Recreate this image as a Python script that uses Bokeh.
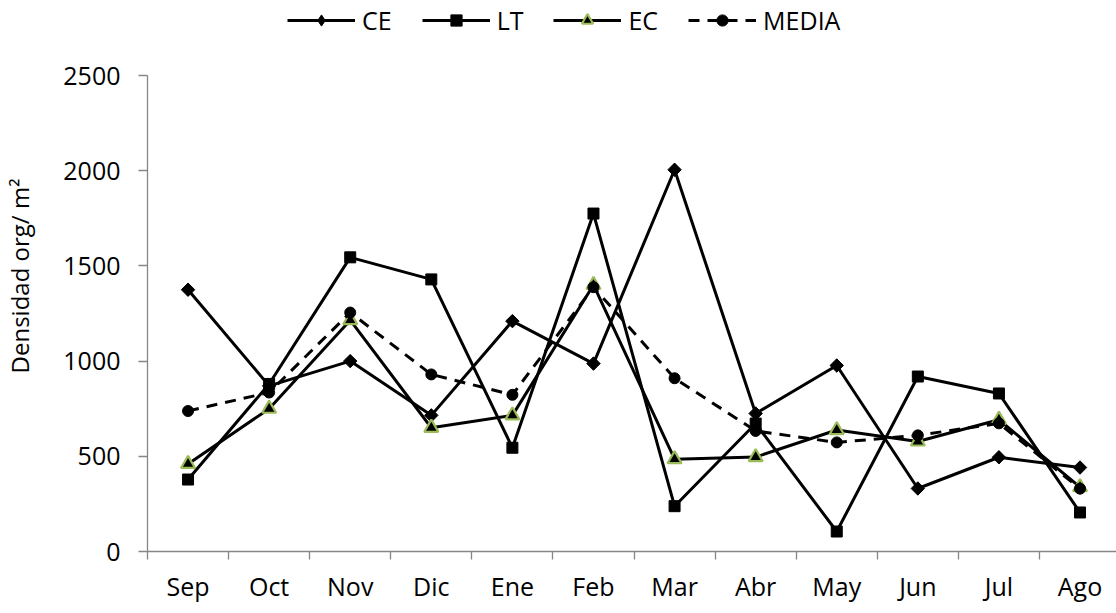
import math
from bokeh.plotting import figure
from bokeh.models import (Range1d, LinearAxis, FixedTicker, Legend, LegendItem)
from bokeh.embed import file_html
from bokeh.resources import INLINE

# Monthly density, org / m2
months = ["Sep", "Oct", "Nov", "Dic", "Ene", "Feb", "Mar", "Abr", "May", "Jun", "Jul", "Ago"]
ce = [1375, 870, 1000, 715, 1210, 987, 2005, 725, 977, 331, 495, 441]
lt = [378, 880, 1545, 1429, 545, 1775, 238, 672, 105, 919, 830, 205]
ec = [460, 750, 1215, 650, 715, 1400, 485, 496, 638, 578, 692, 338]
media = [738, 835, 1255, 930, 823, 1388, 910, 633, 573, 610, 673, 330]
y_ticks = [0, 500, 1000, 1500, 2000, 2500]

xs = list(range(len(months)))
FONT = "Open Sans"
FS = "25px"
AXIS_GRAY = "#868686"

# The frame reaches the top edge so the legend can sit above the 2500 line;
# the y axis itself is bounded to 0..2500.
p = figure(width=1116, height=613, output_backend="svg", toolbar_location=None,
           x_range=Range1d(-0.5, 11.45), y_range=Range1d(0, 2894),
           x_axis_type=None, y_axis_type=None,
           min_border_left=147, min_border_right=0,
           min_border_top=0, min_border_bottom=62)
p.outline_line_color = None
p.xgrid.visible = False
p.ygrid.visible = False
p.background_fill_color = "white"
p.border_fill_color = "white"

# x axis: month names centred in each slot, tick marks on the slot boundaries
xaxis = LinearAxis(ticker=FixedTicker(ticks=xs, minor_ticks=[i - 0.5 for i in range(len(months) + 1)]),
                   major_label_overrides={i: m for i, m in enumerate(months)})
xaxis.axis_line_color = AXIS_GRAY
xaxis.axis_line_width = 1.3
xaxis.major_tick_line_color = None
xaxis.major_tick_out = 0
xaxis.major_tick_in = 0
xaxis.minor_tick_line_color = AXIS_GRAY
xaxis.minor_tick_line_width = 1.3
xaxis.minor_tick_out = 8
xaxis.minor_tick_in = 0
xaxis.major_label_standoff = 9
xaxis.major_label_text_font = FONT
xaxis.major_label_text_font_size = FS
xaxis.major_label_text_color = "#000000"
p.add_layout(xaxis, "below")

yaxis = LinearAxis(ticker=FixedTicker(ticks=y_ticks, minor_ticks=[]), bounds=(0, 2500))
yaxis.axis_line_color = AXIS_GRAY
yaxis.axis_line_width = 1.3
yaxis.major_tick_line_color = AXIS_GRAY
yaxis.major_tick_line_width = 1.3
yaxis.major_tick_out = 9
yaxis.major_tick_in = 0
yaxis.minor_tick_line_color = None
yaxis.major_label_standoff = 18
yaxis.major_label_text_font = FONT
yaxis.major_label_text_font_size = FS
yaxis.major_label_text_color = "#000000"
yaxis.axis_label = "Densidad org/ m²"
yaxis.axis_label_text_font = FONT
yaxis.axis_label_text_font_size = "24px"
yaxis.axis_label_text_font_style = "normal"
yaxis.axis_label_text_color = "#000000"
yaxis.axis_label_standoff = 24
p.add_layout(yaxis, "left")

LW = 3
items = []

# CE: diamond markers (the rotated square on top gives the wider plot marker,
# the plain diamond underneath is what the legend shows)
l_ce = p.line(xs, ce, line_color="black", line_width=LW)
m_ce = p.scatter(xs, ce, marker="diamond", size=12, fill_color="black", line_color="black")
p.scatter(xs, ce, marker="square", angle=math.pi / 4, size=9.5,
          fill_color="black", line_color="black")
items.append(LegendItem(label="CE", renderers=[l_ce, m_ce]))

l_lt = p.line(xs, lt, line_color="black", line_width=LW)
m_lt = p.scatter(xs, lt, marker="square", size=11, fill_color="black", line_color="black")
items.append(LegendItem(label="LT", renderers=[l_lt, m_lt]))

l_ec = p.line(xs, ec, line_color="black", line_width=LW)
m_ec = p.scatter(xs, ec, marker="triangle", size=14, fill_color="black",
                 line_color="#9BBB59", line_width=2.2)
items.append(LegendItem(label="EC", renderers=[l_ec, m_ec]))

l_me = p.line(xs, media, line_color="black", line_width=LW, line_dash="11 8")
m_me = p.scatter(xs, media, marker="circle", size=11, fill_color="black", line_color="black")
items.append(LegendItem(label="MEDIA", renderers=[l_me, m_me]))

legend = Legend(items=items, orientation="horizontal", location=(140, 514),
                glyph_width=68, glyph_height=28, label_standoff=7, spacing=30,
                padding=0, margin=0, border_line_color=None,
                background_fill_alpha=0,
                label_text_font=FONT, label_text_font_size=FS,
                label_text_color="#000000")
p.add_layout(legend, "center")

open("out.html", "w").write(file_html(p, INLINE))
